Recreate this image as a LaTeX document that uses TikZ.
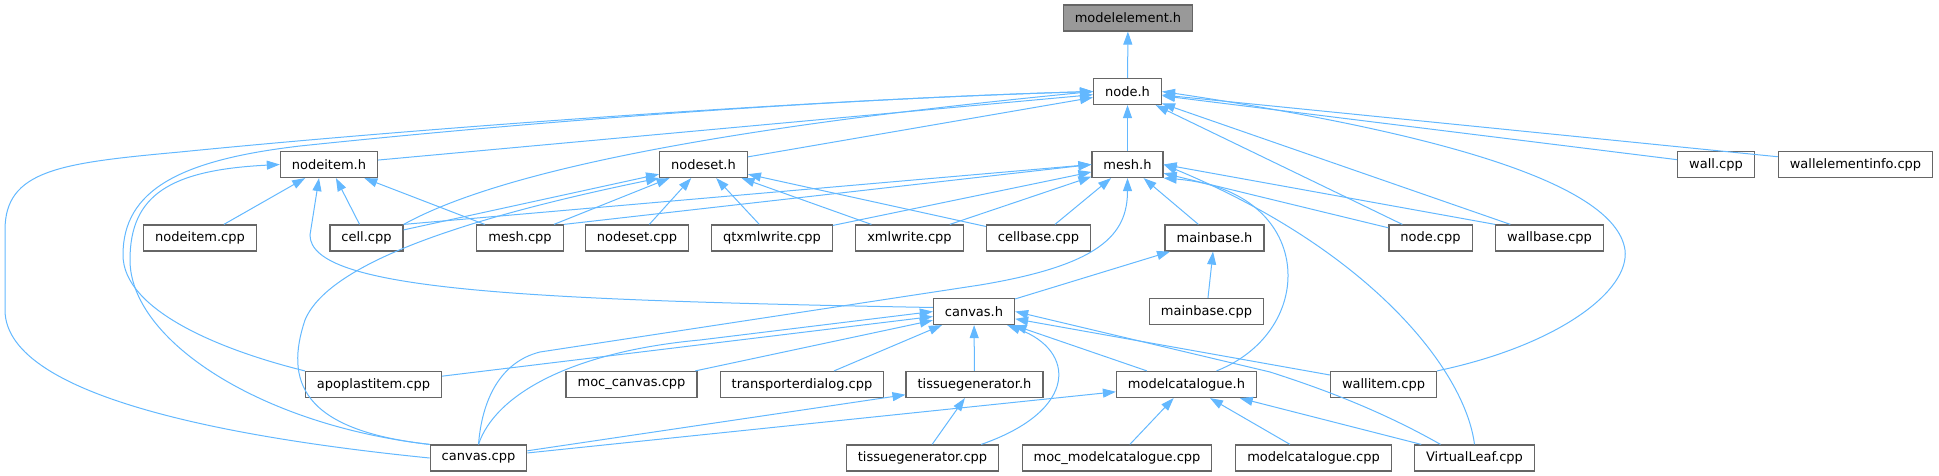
\documentclass[tikz,border=0pt]{standalone}
\usepackage{fontspec}
\setmainfont{DejaVu Sans}
\usepackage{tikz}
\usetikzlibrary{arrows.meta}
\definecolor{edgeblue}{HTML}{63B8FF}
\definecolor{fileborder}{HTML}{666666}
\definecolor{rootfill}{HTML}{999999}
\tikzset{
  file/.style = {draw=fileborder, fill=white, line width=1.2pt,
                 font=\fontsize{13}{15}\selectfont, inner xsep=11.5pt,
                 inner ysep=0pt, minimum height=26pt},
  root/.style = {file, fill=rootfill},
  dep/.style  = {-{Triangle[length=13pt,width=9pt]}, draw=edgeblue,
                 line width=1pt},
}
\begin{document}
\begin{tikzpicture}[x=1pt,y=-1pt]
\useasboundingbox (0,0) rectangle (1939,476);
\node[root] (modelelementh) at (1128,18) {modelelement.h};
\node[file] (nodeh) at (1127.5,91.5) {node.h};
\node[file] (nodeitemh) at (329,164.5) {nodeitem.h};
\node[file] (nodeseth) at (703.5,164.5) {nodeset.h};
\node[file] (meshh) at (1127.5,164.5) {mesh.h};
\node[file] (wallcpp) at (1716,164.5) {wall.cpp};
\node[file] (wallelementinfocpp) at (1855.5,164.5) {wallelementinfo.cpp};
\node[file] (nodeitemcpp) at (200,238) {nodeitem.cpp};
\node[file] (cellcpp) at (366.5,238) {cell.cpp};
\node[file] (meshcpp) at (520,238) {mesh.cpp};
\node[file] (nodesetcpp) at (637,238) {nodeset.cpp};
\node[file] (qtxmlwritecpp) at (772,238) {qtxmlwrite.cpp};
\node[file] (xmlwritecpp) at (909.5,238) {xmlwrite.cpp};
\node[file] (cellbasecpp) at (1038.5,238) {cellbase.cpp};
\node[file] (mainbaseh) at (1214.5,238) {mainbase.h};
\node[file] (nodecpp) at (1430.5,238) {node.cpp};
\node[file] (wallbasecpp) at (1549.5,238) {wallbase.cpp};
\node[file] (canvash) at (974,311.5) {canvas.h};
\node[file] (mainbasecpp) at (1206.5,311.5) {mainbase.cpp};
\node[file] (apoplastitemcpp) at (373.5,384.5) {apoplastitem.cpp};
\node[file] (moccanvascpp) at (631.5,384.5) {moc\_canvas.cpp};
\node[file] (transporterdialogcpp) at (802,384.5) {transporterdialog.cpp};
\node[file] (tissuegeneratorh) at (974.5,384.5) {tissuegenerator.h};
\node[file] (modelcatalogueh) at (1186.5,384.5) {modelcatalogue.h};
\node[file] (wallitemcpp) at (1383.5,384.5) {wallitem.cpp};
\node[file] (canvascpp) at (478.5,458) {canvas.cpp};
\node[file] (tissuegeneratorcpp) at (922.5,458) {tissuegenerator.cpp};
\node[file] (mocmodelcataloguecpp) at (1117,458) {moc\_modelcatalogue.cpp};
\node[file] (modelcataloguecpp) at (1313.5,458) {modelcatalogue.cpp};
\node[file] (virtualleafcpp) at (1474.5,458) {VirtualLeaf.cpp};

\draw[dep] (nodeh) -- (modelelementh);
\draw[dep] (meshh) -- (nodeh);
\draw[dep] (nodeitemh) -- (nodeh);
\draw[dep] (nodeseth) -- (nodeh);
\draw[dep] (cellcpp.north east) .. controls (520,160) and (800,120) .. (nodeh.west);
\draw[dep] (nodecpp) -- (nodeh);
\draw[dep] (wallbasecpp) -- (nodeh);
\draw[dep] (wallcpp) -- (nodeh);
\draw[dep] (wallelementinfocpp) -- (nodeh);
\draw[dep] (wallitemcpp.north east) .. controls (1560,345) and (1630,290) .. (1625,250)
  .. controls (1615,180) and (1420,130) .. (nodeh.east);
\draw[dep] (canvascpp.west) .. controls (250,440) and (5,400) .. (5,310) -- (5,230)
  .. controls (5,170) and (60,163) .. (180,152) .. controls (400,130) and (800,100) .. (nodeh.west);
\draw[dep] (apoplastitemcpp.north west) .. controls (220,350) and (123,310) .. (123,255)
  .. controls (123,190) and (180,160) .. (300,146) .. controls (500,125) and (800,100) .. (nodeh.west);

\draw[dep] (nodeitemcpp) -- (nodeitemh);
\draw[dep] (cellcpp) -- (nodeitemh);
\draw[dep] (meshcpp) -- (nodeitemh);
\draw[dep] (canvascpp.north west) .. controls (260,425) and (130,340) .. (130,260)
  .. controls (130,195) and (170,170) .. (nodeitemh.west);
\draw[dep] ([yshift=4pt]canvash.west) .. controls (520,300) and (310,290) .. (310,235)
  -- ([xshift=-10pt]nodeitemh.south);

\draw[dep] (cellcpp) -- (nodeseth);
\draw[dep] (meshcpp) -- (nodeseth);
\draw[dep] (nodesetcpp) -- (nodeseth);
\draw[dep] (qtxmlwritecpp) -- (nodeseth);
\draw[dep] (xmlwritecpp) -- (nodeseth);
\draw[dep] (cellbasecpp) -- (nodeseth);
\draw[dep] (canvascpp.north west) .. controls (300,430) and (285,380) .. (305,320)
  .. controls (330,260) and (480,215) .. (nodeseth.south west);

\draw[dep] (cellcpp.north east) -- (meshh.west);
\draw[dep] (meshcpp.north east) -- (meshh.west);
\draw[dep] (qtxmlwritecpp) -- (meshh);
\draw[dep] (xmlwritecpp) -- (meshh);
\draw[dep] (cellbasecpp) -- (meshh);
\draw[dep] (mainbaseh) -- (meshh);
\draw[dep] (nodecpp) -- (meshh);
\draw[dep] (wallbasecpp.north west) -- (meshh.east);
\draw[dep] (canvascpp.north) .. controls (482,400) and (500,362) .. (540,352) -- (980,285)
  .. controls (1100,265) and (1127.5,235) .. (meshh.south);
\draw[dep] ([xshift=30pt]modelcatalogueh.north) .. controls (1320,330) and (1315,190) .. (meshh.south east);
\draw[dep] (virtualleafcpp.north) .. controls (1465,370) and (1370,250) .. (meshh.east);

\draw[dep] (canvash) -- (mainbaseh);
\draw[dep] (mainbasecpp) -- (mainbaseh);

\draw[dep] (canvascpp.north) .. controls (495,395) and (570,352) .. (700,340) -- (canvash.west);
\draw[dep] (apoplastitemcpp) -- (canvash);
\draw[dep] (moccanvascpp) -- (canvash);
\draw[dep] (transporterdialogcpp) -- (canvash);
\draw[dep] (tissuegeneratorh) -- (canvash);
\draw[dep] ([xshift=-18pt]tissuegeneratorcpp.north east) .. controls (1080,410) and (1075,350)
  .. ([xshift=-8pt]canvash.south east);
\draw[dep] (modelcatalogueh) -- (canvash);
\draw[dep] (wallitemcpp) -- (canvash);
\draw[dep] ([xshift=-34pt]virtualleafcpp.north) .. controls (1380,410) and (1320,388) .. (1270,372)
  -- (canvash.east);

\draw[dep] (tissuegeneratorcpp) -- (tissuegeneratorh);
\draw[dep] (canvascpp) -- (tissuegeneratorh);

\draw[dep] (canvascpp) -- (modelcatalogueh);
\draw[dep] (mocmodelcataloguecpp) -- (modelcatalogueh);
\draw[dep] (modelcataloguecpp) -- (modelcatalogueh);
\draw[dep] (virtualleafcpp) -- (modelcatalogueh);
\end{tikzpicture}
\end{document}
